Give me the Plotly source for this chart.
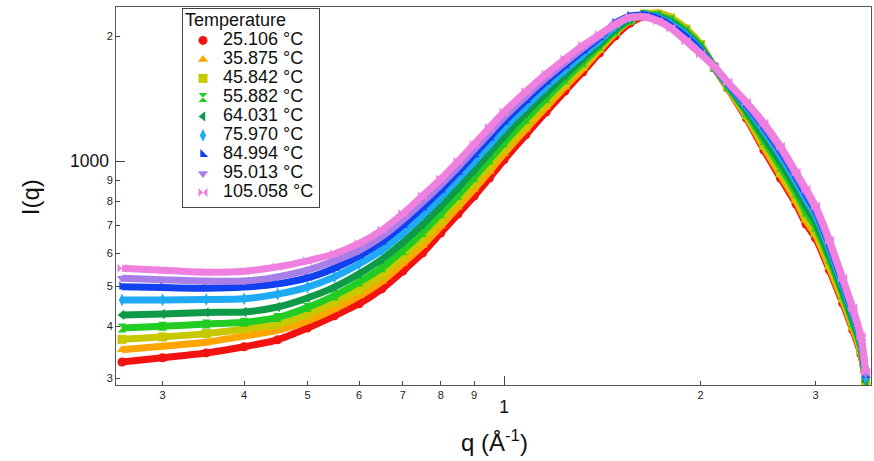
import plotly.graph_objects as go

# ---------------- data ----------------
q = [0.26, 0.30, 0.35, 0.40, 0.45, 0.50, 0.55, 0.60, 0.65, 0.70, 0.75, 0.80,
     0.85, 0.90, 0.95, 1.00, 1.08, 1.16, 1.24, 1.32, 1.40, 1.48, 1.56, 1.64,
     1.72, 1.80, 1.90, 2.00, 2.10, 2.20, 2.35, 2.50, 2.65, 2.80, 2.90, 3.00,
     3.15, 3.30, 3.42, 3.52, 3.58]

temperatures = ["25.106 °C", "35.875 °C", "45.842 °C", "55.882 °C", "64.031 °C",
                "75.970 °C", "84.994 °C", "95.013 °C", "105.058 °C"]

I_25 = [328, 336, 345, 357, 371, 396, 424, 453, 492, 543, 600, 671, 745, 823, 910, 1006,
        1156, 1312, 1474, 1638, 1820, 2000, 2149, 2234, 2259, 2209, 2078, 1903, 1675, 1499,
        1269, 1063, 910, 788, 705, 652, 546, 455, 392, 343, 292]
I_36 = [351, 358, 366, 379, 391, 412, 440, 473, 513, 567, 625, 697, 774, 855, 944, 1041,
        1193, 1348, 1508, 1669, 1850, 2033, 2179, 2259, 2272, 2216, 2084, 1913, 1680, 1503,
        1280, 1079, 926, 802, 719, 664, 555, 462, 397, 347, 294]
I_46 = [372, 377, 384, 394, 404, 427, 457, 490, 532, 587, 648, 721, 800, 883, 974, 1072,
        1223, 1380, 1539, 1697, 1871, 2050, 2185, 2259, 2259, 2209, 2078, 1908, 1680, 1508,
        1292, 1095, 943, 817, 733, 676, 565, 468, 401, 350, 294]
I_56 = [396, 400, 405, 409, 420, 444, 474, 511, 553, 609, 673, 747, 827, 913, 1007, 1106,
        1260, 1415, 1571, 1727, 1892, 2056, 2185, 2247, 2241, 2185, 2056, 1892, 1682, 1515,
        1309, 1120, 968, 838, 754, 694, 580, 478, 409, 356, 292]
I_64 = [426, 428, 432, 433, 445, 468, 497, 535, 580, 637, 703, 779, 862, 951, 1047, 1148,
        1304, 1458, 1611, 1764, 1918, 2078, 2197, 2247, 2228, 2161, 2033, 1871, 1684, 1524,
        1327, 1146, 995, 861, 777, 713, 593, 488, 416, 361, 295]
I_76 = [463, 463, 464, 466, 478, 497, 526, 565, 610, 671, 740, 818, 904, 997, 1094, 1199,
        1354, 1508, 1657, 1804, 1951, 2113, 2216, 2247, 2216, 2137, 2011, 1850, 1684, 1535,
        1350, 1181, 1031, 892, 808, 739, 613, 501, 427, 368, 300]
I_85 = [498, 496, 494, 497, 506, 523, 552, 591, 639, 701, 773, 852, 940, 1037, 1138, 1244,
        1400, 1553, 1699, 1842, 1983, 2149, 2234, 2247, 2203, 2119, 1989, 1840, 1686, 1542,
        1368, 1207, 1058, 916, 831, 759, 629, 512, 435, 374, 305]
I_95 = [522, 518, 514, 514, 526, 546, 575, 609, 658, 722, 796, 876, 965, 1065, 1168, 1274,
        1431, 1583, 1727, 1867, 2000, 2137, 2222, 2228, 2179, 2096, 1956, 1820, 1686, 1545,
        1377, 1219, 1071, 927, 843, 768, 636, 517, 438, 376, 307]
I_105 = [552, 546, 540, 543, 556, 575, 598, 633, 682, 747, 824, 905, 998, 1098, 1205, 1312,
         1470, 1620, 1761, 1897, 2016, 2131, 2216, 2222, 2173, 2090, 1945, 1810, 1688, 1550,
         1387, 1234, 1086, 940, 856, 779, 645, 523, 443, 379, 310]

series = [I_25, I_36, I_46, I_56, I_64, I_76, I_85, I_95, I_105]

x_tick_vals = [0.3, 0.4, 0.5, 0.6, 0.7, 0.8, 0.9, 2, 3]
x_tick_text = ["3", "4", "5", "6", "7", "8", "9", "2", "3"]
x_major_vals = [1]
x_major_text = ["1"]
y_tick_vals = [300, 400, 500, 600, 700, 800, 900, 2000]
y_tick_text = ["3", "4", "5", "6", "7", "8", "9", "2"]
y_major_vals = [1000]
y_major_text = ["1000"]

# ---------------- styles ----------------
colors = ["#f21212", "#ffa500", "#c8c800", "#22cc22", "#0f9a4a",
          "#1eaaf5", "#1040f0", "#a87ee8", "#f080e0"]
symbols = ["circle", "triangle-up", "square", "hourglass", "triangle-left",
           "diamond-tall", "triangle-sw", "triangle-down", "bowtie"]

X_RANGE = [-0.5942, 0.5620]
Y_RANGE = [2.4606, 3.3709]
FONT = "Liberation Sans, Arial, Helvetica, sans-serif"

fig = go.Figure()
for name, vals, col, sym in zip(temperatures, series, colors, symbols):
    fig.add_trace(go.Scatter(
        x=q, y=vals, mode="lines",
        line=dict(color=col, width=7, shape="spline", smoothing=0.6),
        showlegend=False, hoverinfo="skip"))
    fig.add_trace(go.Scatter(
        x=q, y=vals, mode="markers",
        name='<span style="font-size:18px">' + name + "</span>",
        marker=dict(symbol=sym, color=col, size=9, line=dict(width=0))))

# empty trace so that the overlaid axes (major ticks) exist
fig.add_trace(go.Scatter(x=[], y=[], xaxis="x2", yaxis="y2", showlegend=False))

common = dict(type="log", showgrid=False, zeroline=False, ticks="inside",
              tickcolor="#444", tickwidth=1)

fig.update_layout(
    width=874, height=461, autosize=False,
    margin=dict(l=116, r=3, t=7, b=76, pad=0),
    paper_bgcolor="white", plot_bgcolor="white",
    font=dict(family=FONT, color="#222", size=11),
    showlegend=True,
    legend=dict(x=0.0874, y=0.9974, xanchor="left", yanchor="top",
                bgcolor="white", bordercolor="#444", borderwidth=1,
                font=dict(size=11.7, color="#111", family=FONT),
                title=dict(text='<span style="font-size:18px">Temperature</span>',
                           font=dict(size=13, color="#111")),
                tracegroupgap=0),
    xaxis=dict(**common, range=X_RANGE, tickmode="array",
               tickvals=x_tick_vals, ticktext=x_tick_text, ticklen=4,
               tickfont=dict(size=11, color="#222"),
               showline=True, linecolor="#555", linewidth=1, mirror=True),
    yaxis=dict(**common, range=Y_RANGE, tickmode="array",
               tickvals=y_tick_vals, ticktext=y_tick_text, ticklen=4,
               tickfont=dict(size=11, color="#222"),
               showline=True, linecolor="#555", linewidth=1, mirror=True),
    xaxis2=dict(**common, range=X_RANGE, overlaying="x", anchor="y2", side="bottom",
                tickmode="array", tickvals=x_major_vals, ticktext=x_major_text,
                ticklen=9, tickfont=dict(size=17.5, color="#111"),
                ticklabelstandoff=9, showline=False),
    yaxis2=dict(**common, range=Y_RANGE, overlaying="y", anchor="x2", side="left",
                tickmode="array", tickvals=y_major_vals, ticktext=y_major_text,
                ticklen=9, tickfont=dict(size=17.5, color="#111"),
                ticklabelstandoff=6, showline=False),
    annotations=[
        dict(text="I(q)", x=-0.1139, y=0.497, xref="paper", yref="paper",
             textangle=-90, showarrow=False, xanchor="center", yanchor="middle",
             font=dict(size=24, color="#111", family=FONT)),
        dict(text="q (Å<sup>-1</sup>)", x=0.5007, y=-0.148, xref="paper", yref="paper",
             showarrow=False, xanchor="center", yanchor="middle",
             font=dict(size=24, color="#111", family=FONT)),
    ],
)

fig.write_html("out.html")
